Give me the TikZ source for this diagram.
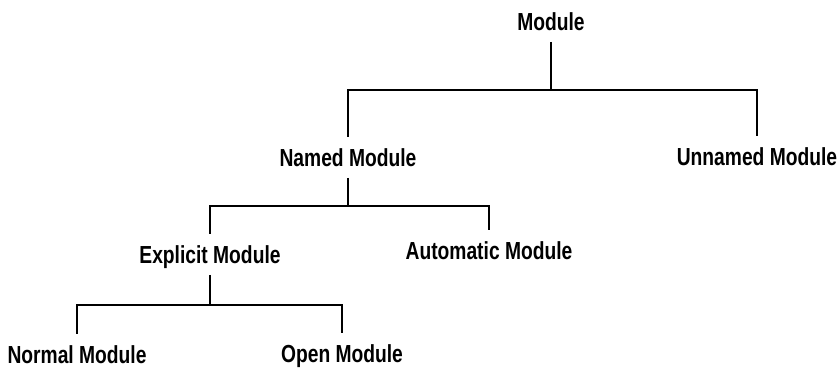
\documentclass[tikz,border=0pt]{standalone}
\usepackage{fontspec}
\setmainfont{Liberation Sans}[FakeStretch=0.78]
\tikzset{
  kind/.style={inner xsep=0pt, inner ysep=6.9pt, text height=10.2pt, text depth=0pt,
               font=\fontsize{14.8}{17}\selectfont\bfseries},
  branch/.style={line width=1.2pt}
}
\begin{document}
\begin{tikzpicture}[x=0.6pt,y=-0.6pt]
  \useasboundingbox (0,0) rectangle (840,367);
  \node[kind, anchor=base] (mod) at (551,30) {Module};
  \node[kind, anchor=base] (named) at (348,166) {Named Module};
  \node[kind, anchor=base] (unnamed) at (757,165) {Unnamed Module};
  \node[kind, anchor=base] (explicit) at (210,263) {Explicit Module};
  \node[kind, anchor=base] (automatic) at (489,259) {Automatic Module};
  \node[kind, anchor=base] (normal) at (77,363) {Normal Module};
  \node[kind, anchor=base] (open) at (342,362) {Open Module};

  \draw[branch] (mod.south) -- ++(0,48) coordinate (modbar) -| (named.north);
  \draw[branch] (modbar) -| (unnamed.north);
  \draw[branch] (named.south) -- ++(0,28) coordinate (namedbar) -| (explicit.north);
  \draw[branch] (namedbar) -| (automatic.north);
  \draw[branch] (explicit.south) -- ++(0,30) coordinate (explicitbar) -| (normal.north);
  \draw[branch] (explicitbar) -| (open.north);
\end{tikzpicture}
\end{document}
